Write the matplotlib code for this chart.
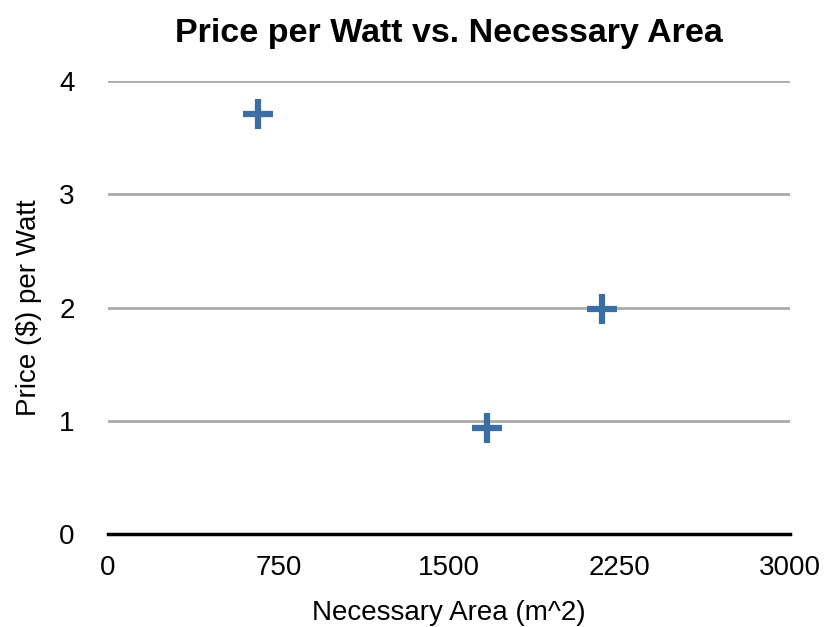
import matplotlib.pyplot as plt

plt.rcParams['font.family'] = ['Liberation Sans', 'DejaVu Sans']

# datos
area = [658, 1667, 2171]
precio = [3.71, 0.94, 1.99]
xticks = [0, 750, 1500, 2250, 3000]
yticks = [0, 1, 2, 3, 4]

fig = plt.figure(figsize=(8.24, 6.27), dpi=100)
ax = fig.add_axes([0.131, 0.148, 0.828, 0.723])

ax.scatter(area, precio, marker='+', s=480, linewidths=4.5, color='#3a6ea5', zorder=3)

ax.set_xlim(0, 3000)
ax.set_ylim(0, 4)
ax.set_xticks(xticks)
ax.set_yticks(yticks)
ax.grid(axis='y', color='#aaaaaa', linewidth=2)
ax.set_axisbelow(True)
for s in ['top', 'right', 'left']:
    ax.spines[s].set_visible(False)
ax.spines['bottom'].set_linewidth(2.5)
ax.spines['bottom'].set_zorder(4)
ax.tick_params(length=0, labelsize=20, pad=9)
ax.tick_params(axis='x', pad=15)
ax.tick_params(axis='y', pad=24)

ax.set_title("Price per Watt vs. Necessary Area", fontsize=24.5, fontweight='bold', pad=28)
ax.set_xlabel("Necessary Area (m^2)", fontsize=20, labelpad=14)
ax.set_ylabel("Price ($) per Watt", fontsize=20, labelpad=12)

fig.savefig("out.png", dpi=100)
